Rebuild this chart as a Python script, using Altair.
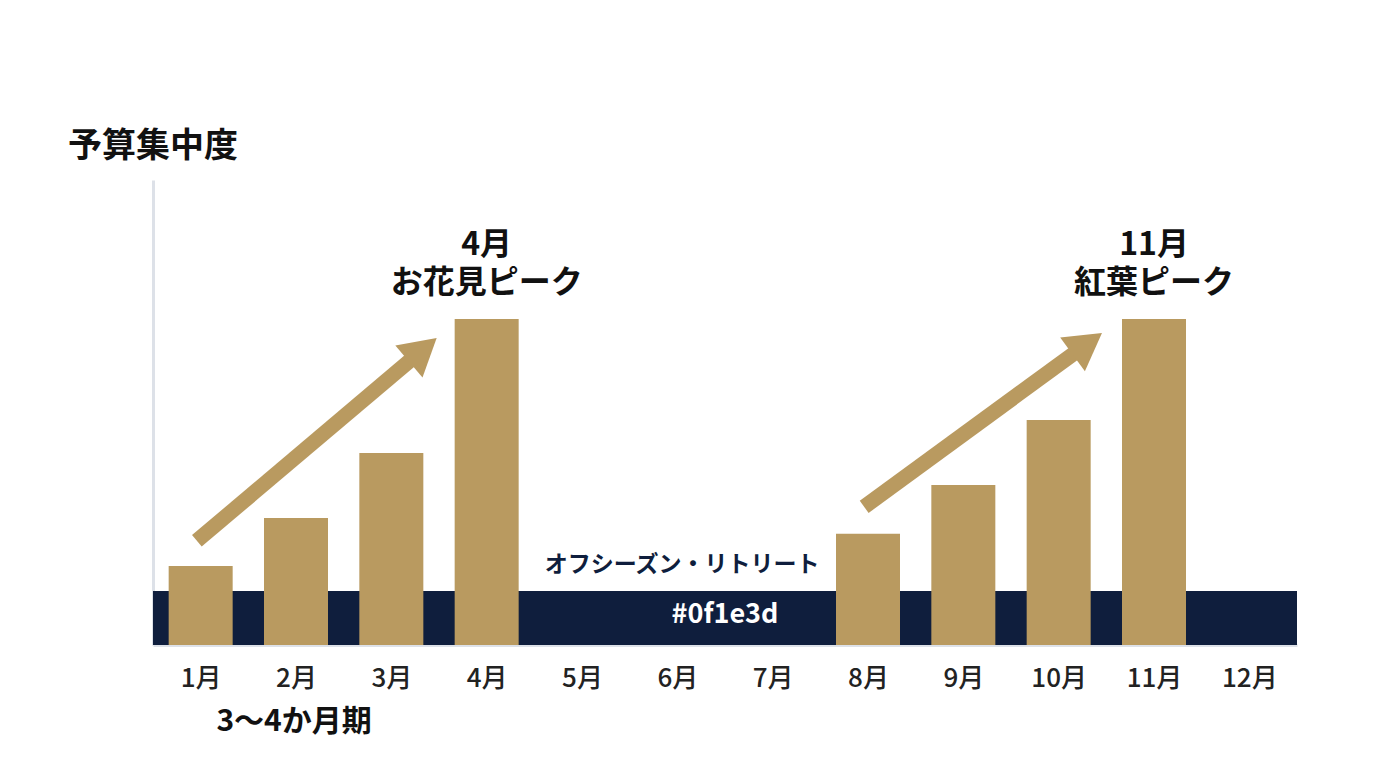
import altair as alt
import pandas as pd

FONT = "Noto Sans CJK JP"
GOLD = "#b99a60"
NAVY = "#0f1e3d"

# --- data ---
months = list(range(1, 13))
budget = [17.0, 27.3, 41.3, 70.1, None, None, None, 23.9, 34.4, 48.4, 70.1, None]

band_x = [0.5]
band_x2 = [12.5]
band_top = [11.6]

peak_month = [4, 11]
peak_y = [86.0, 86.0]
peak_text = ["4月\nお花見ピーク", "11月\n紅葉ピーク"]

arrow_x = [0.96, 7.96]
arrow_y = [22.4, 29.7]
arrow_x2 = [3.33, 10.30]
arrow_y2 = [63.5, 64.8]
arrow_angle = [49.7, 54.0]

bars = pd.DataFrame({"month": months, "value": budget}).dropna()
band = pd.DataFrame({"x": band_x, "x2": band_x2, "y": [0.0], "y2": band_top})
peaks = pd.DataFrame({"x": peak_month, "y": peak_y, "text": peak_text})
arrows = pd.DataFrame({"x": arrow_x, "y": arrow_y, "x2": arrow_x2, "y2": arrow_y2, "angle": arrow_angle})

xscale = alt.Scale(domain=[0.5, 12.5], nice=False, zero=False, padding=0)
yscale = alt.Scale(domain=[0, 100], nice=False, padding=0)

xaxis = alt.Axis(values=months, labelExpr="datum.value + '月'", ticks=False, grid=False,
                 domainColor="#dde1e8", domainWidth=3, labelFontSize=26, labelColor="#222222",
                 labelFont=FONT, labelFontWeight=500, labelPadding=20, title=None)
yaxis = alt.Axis(labels=False, ticks=False, grid=False, domainColor="#dde1e8", domainWidth=3, title=None)

band_layer = alt.Chart(band).mark_rect(color=NAVY).encode(
    x=alt.X("x:Q", scale=xscale, axis=xaxis),
    x2="x2:Q",
    y=alt.Y("y:Q", scale=yscale, axis=yaxis),
    y2="y2:Q",
)

bar_layer = alt.Chart(bars).mark_bar(color=GOLD, size=64).encode(
    x=alt.X("month:Q", scale=xscale),
    y=alt.Y("value:Q", scale=yscale),
)

shaft = alt.Chart(arrows).mark_rule(color=GOLD, strokeWidth=15, strokeCap="butt").encode(
    x="x:Q", y="y:Q", x2="x2:Q", y2="y2:Q"
)
head = alt.Chart(arrows).mark_point(shape="triangle-up", filled=True, size=1764, color=GOLD, opacity=1).encode(
    x="x2:Q", y="y2:Q", angle=alt.Angle("angle:Q", scale=None)
)

peak_layer = alt.Chart(peaks).mark_text(font=FONT, fontSize=32, fontWeight="bold", color="#111111",
                                        baseline="middle", align="center", lineBreak="\n",
                                        lineHeight=38).encode(
    x="x:Q", y="y:Q", text="text:N"
)

off_label = alt.Chart(pd.DataFrame({"x": [6.05], "y": [17.2], "t": ["オフシーズン・リトリート"]})).mark_text(
    font=FONT, fontSize=23, fontWeight="bold", color=NAVY, baseline="middle"
).encode(x="x:Q", y="y:Q", text="t:N")

band_label = alt.Chart(pd.DataFrame({"x": [6.5], "y": [6.4], "t": ["#0f1e3d"]})).mark_text(
    font=FONT, fontSize=27, fontWeight="bold", color="#ffffff", baseline="middle"
).encode(x="x:Q", y="y:Q", text="t:N")

period_label = alt.Chart(pd.DataFrame({"x": [1.98], "y": [-16.6], "t": ["3〜4か月期"]})).mark_text(
    font=FONT, fontSize=30, fontWeight="bold", color="#111111", baseline="middle"
).encode(x="x:Q", y="y:Q", text="t:N")

chart = alt.layer(
    band_layer, bar_layer, shaft, head, peak_layer, off_label, band_label, period_label
).properties(
    width=1144, height=465,
    padding={"left": 153, "top": 180, "right": 79, "bottom": 123},
    autosize="none",
    title=alt.TitleParams(text="予算集中度", anchor="start", font=FONT, fontSize=34,
                          fontWeight="bold", color="#111111", dx=-85, dy=36, offset=18, baseline="bottom"),
).configure(
    background="#ffffff",
    view=alt.ViewConfig(stroke="transparent", strokeWidth=0),
)

chart.save("out.html", embed_options={"renderer": "svg", "actions": False})
